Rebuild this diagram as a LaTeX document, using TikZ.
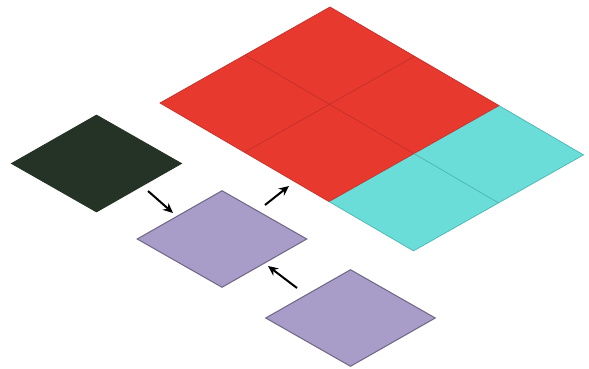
\documentclass[tikz,border=0pt]{standalone}
\usetikzlibrary{arrows.meta,shapes.geometric}
\definecolor{dkgreen}{HTML}{243326}
\definecolor{lav}{HTML}{A89CC8}
\definecolor{lavline}{HTML}{6F6684}
\definecolor{tilered}{HTML}{E8392E}
\definecolor{redline}{HTML}{C4302A}
\definecolor{tilecyan}{HTML}{6ADDD8}
\definecolor{cyanline}{HTML}{4DB5B1}
\begin{document}
\begin{tikzpicture}[x=1pt,y=-1pt,
  tile/.style={diamond, minimum width=170pt, minimum height=97pt, inner sep=0pt, line width=1pt},
  flow/.style={line width=2pt, -{Stealth[length=10pt,width=9pt]}}]
\useasboundingbox (0,0) rectangle (589,369);
% big grid
\coordinate (g00) at (330,7);
\coordinate (g20) at (499,105.6);
\coordinate (g30) at (583.5,154.9);
\coordinate (g10) at (414.5,56.3);
\coordinate (g01) at (245,55);
\coordinate (g02) at (160,103);
\coordinate (g21) at (414,153.6);
\coordinate (g31) at (498.5,202.9);
\coordinate (g12) at (244.5,152.3);
\coordinate (g22) at (329,201.6);
\coordinate (g32) at (413.5,250.9);
\fill[tilered] (g00) -- (g20) -- (g22) -- (g02) -- cycle;
\fill[tilecyan] (g20) -- (g30) -- (g32) -- (g22) -- cycle;
\draw[redline, line width=0.7pt] (g10) -- (g12) (g01) -- (g21) (g00) -- (g20) -- (g22) -- (g02) -- cycle;
\draw[cyanline, line width=0.7pt] (g21) -- (g31) (g20) -- (g30) -- (g32) -- (g22);
% small tiles
\node[tile, fill=dkgreen, draw=dkgreen] (dark) at (96.5,163.5) {};
\node[tile, fill=lav, draw=lavline] (mid) at (222,239) {};
\node[tile, fill=lav, draw=lavline] (low) at (350.5,318) {};
% arrows
\coordinate (a1s) at (148,191);
\coordinate (a1e) at (173,213);
\coordinate (a2s) at (265,205);
\coordinate (a2e) at (289,186);
\coordinate (a3s) at (297,288);
\coordinate (a3e) at (268,266);
\draw[flow] (a1s) -- (a1e);
\draw[flow] (a2s) -- (a2e);
\draw[flow] (a3s) -- (a3e);
\end{tikzpicture}
\end{document}
